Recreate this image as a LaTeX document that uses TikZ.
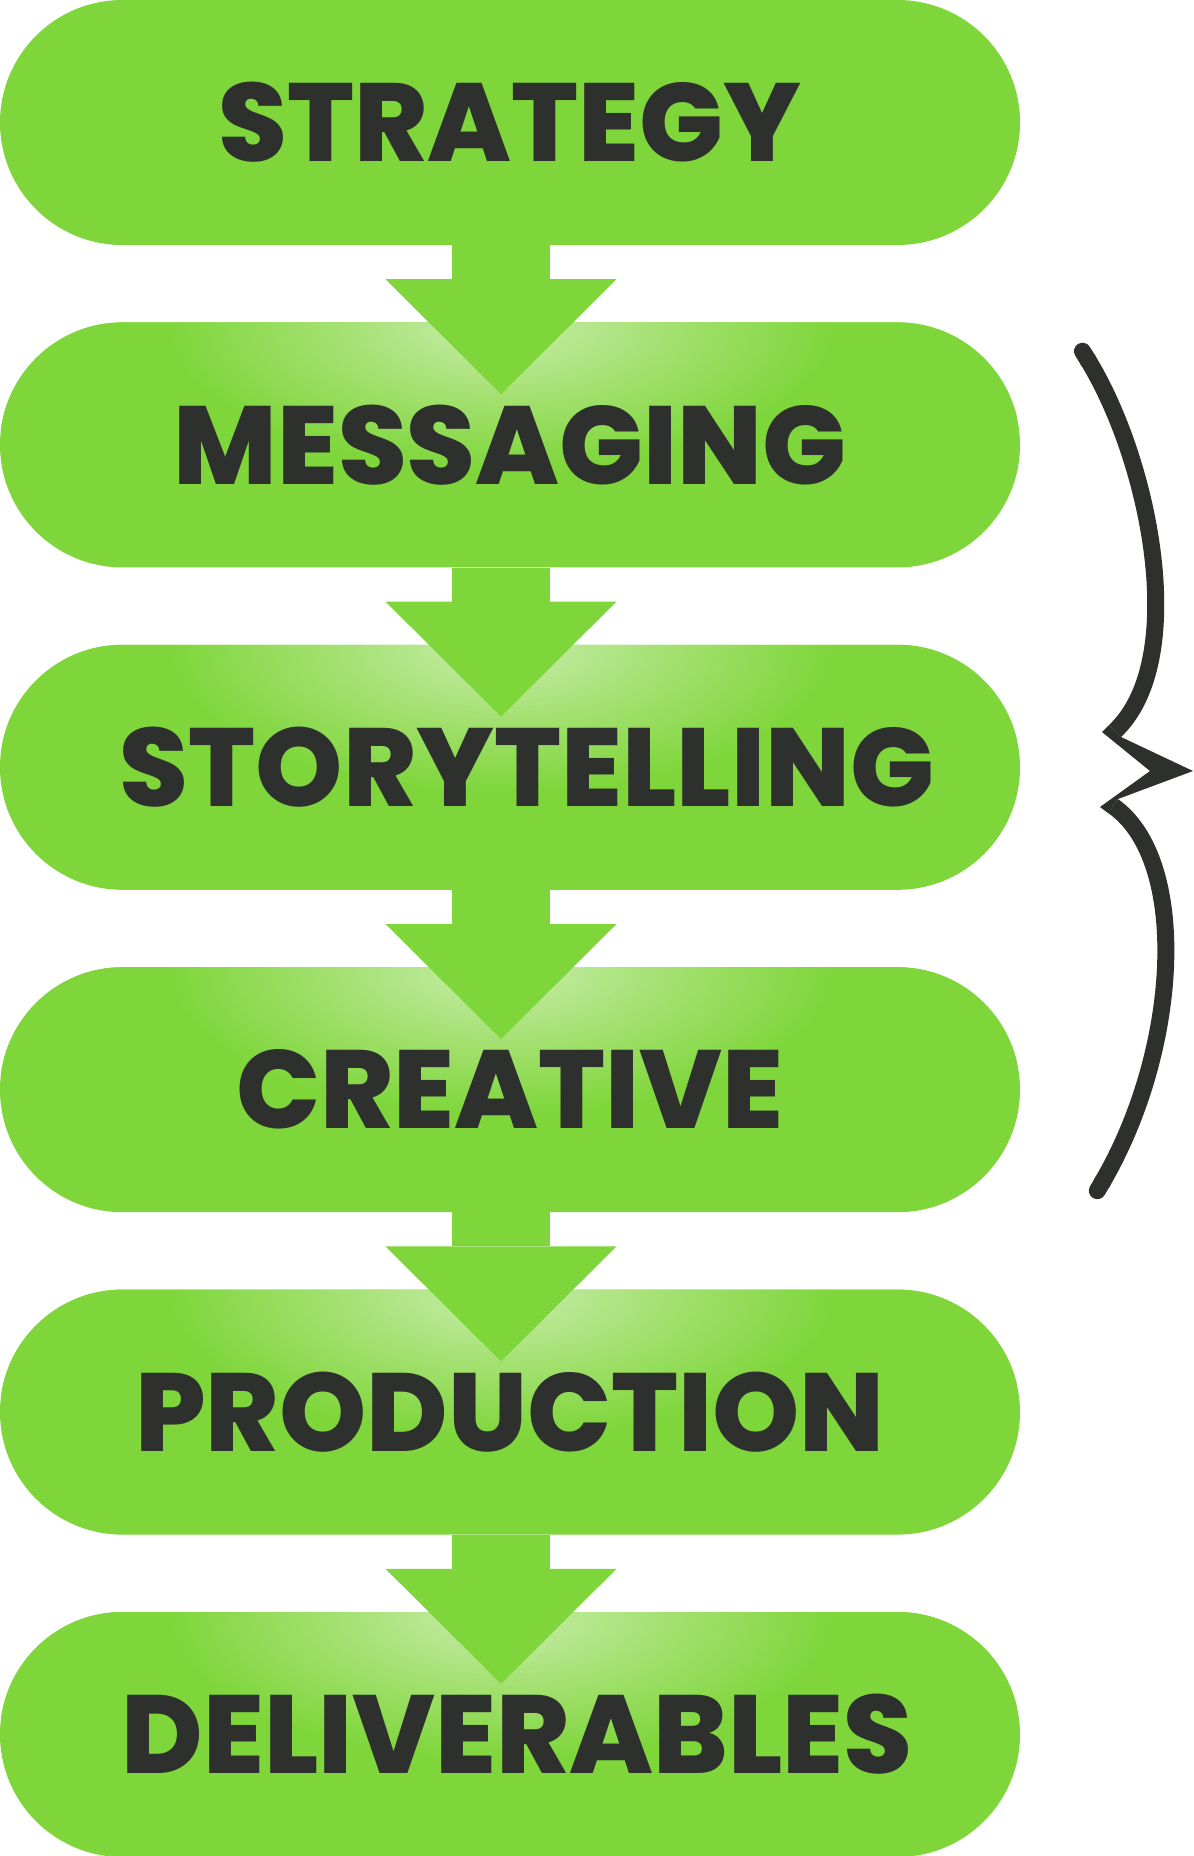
\documentclass[tikz,border=0pt]{standalone}
\usepackage{fontspec}
\newfontfamily\pillfont{Poppins ExtraBold}
\usetikzlibrary{positioning,arrows.meta}
\definecolor{flowgreen}{HTML}{7ED63A}
\definecolor{glowgreen}{HTML}{C8EDAB}
\definecolor{midgreen}{HTML}{A6E174}
\definecolor{inkgray}{HTML}{2E302D}
\pgfdeclareradialshading{pillglow}{\pgfpoint{0bp}{0bp}}{color(0bp)=(glowgreen); color(7bp)=(midgreen); color(15bp)=(flowgreen); color(50bp)=(flowgreen)}

\begin{document}
\begin{tikzpicture}[x=1pt,y=-1pt,
    pill/.style={rectangle, rounded corners=122.5pt, minimum width=1020pt,
      minimum height=245pt, inner sep=0pt, fill=flowgreen, text=inkgray,
      font=\pillfont\fontsize{111}{111}\selectfont},
    glowpill/.style={pill, path picture={
      \shade[shading=pillglow]
        ([xshift=-9pt]path picture bounding box.north) ellipse [x radius=560pt, y radius=240pt];}},
    flow/.style={draw=flowgreen, line width=98pt,
      -{Triangle[width=231pt, length=115pt, line width=0pt]}},
    bracearm/.style={draw=inkgray, line width=17pt}]
    \useasboundingbox (0,0) rectangle (1194,1856);

    % Draw the pills
    \node[pill] (strategy) at (510,122.5) {STRATEGY};
    \node[glowpill, below=77pt of strategy] (messaging) {MESSAGING};
    \node[glowpill, below=77pt of messaging] (storytelling) {\hspace*{34pt}STORYTELLING};
    \node[glowpill, below=77pt of storytelling] (creative) {CREATIVE};
    \node[glowpill, below=77pt of creative] (production) {PRODUCTION};
    \node[glowpill, below=77pt of production] (deliverables) {\hspace*{14pt}DELIVERABLES};

    % Draw the arrows between them
    \draw[flow] ([xshift=-9pt]strategy.south) -- ([xshift=-9pt,yshift=-72pt]messaging.north);
    \draw[flow] ([xshift=-9pt]messaging.south) -- ([xshift=-9pt,yshift=-72pt]storytelling.north);
    \draw[flow] ([xshift=-9pt]storytelling.south) -- ([xshift=-9pt,yshift=-72pt]creative.north);
    \draw[flow] ([xshift=-9pt]creative.south) -- ([xshift=-9pt,yshift=-72pt]production.north);
    \draw[flow] ([xshift=-9pt]production.south) -- ([xshift=-9pt,yshift=-72pt]deliverables.north);

    % Draw the brace
    \draw[bracearm, {Round Cap[]}-] (1078,344) .. controls (1150,460) and (1190,660) .. (1115,731);
    \draw[bracearm, -{Round Cap[]}] (1113,806) .. controls (1190,860) and (1180,1050) .. (1093,1198);
    \fill[inkgray] (1109,725) -- (1102,732) -- (1150,771) -- (1100,807) -- (1108,813)
      -- (1118,799) -- (1193,771) -- (1121,737) -- cycle;

\end{tikzpicture}
\end{document}
